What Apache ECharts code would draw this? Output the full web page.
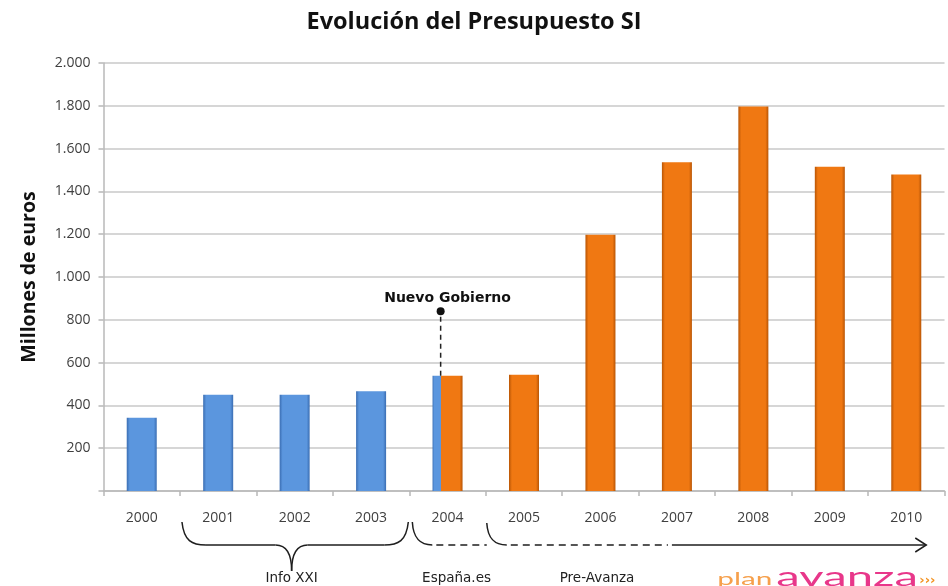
<!DOCTYPE html>
<html>
<head>
<meta charset="utf-8">
<script src="https://cdn.jsdelivr.net/npm/echarts@6/dist/echarts.min.js"></script>
<style>
  html, body { margin: 0; padding: 0; background: #fff; }
  #chart { width: 948px; height: 586px; }
</style>
</head>
<body>
<div id="chart"></div>
<script>
// Budget for the Information Society, millions of euros
const years  = ['2000', '2001', '2002', '2003', '2004', '2005', '2006', '2007', '2008', '2009', '2010'];
const budget = [342, 450, 450, 466, 538, 543, 1198, 1536, 1797, 1515, 1479];
// Programme each year belongs to: 'info' (Info XXI), 'avanza', or 'split' (2004, change of government)
const phase  = ['info', 'info', 'info', 'info', 'split', 'avanza', 'avanza', 'avanza', 'avanza', 'avanza', 'avanza'];
const programmes = ['Info XXI', 'España.es', 'Pre-Avanza'];
const eventLabel = 'Nuevo Gobierno';
const eventValue = 840;

const BAR_W = 30;
const BLUE_FRAC = 0.27;

const blue = { dark: '#3a6db2', main: '#5b96de' };
const orange = { dark: '#b85505', main: '#f07812' };

function bevel(c) {
  return new echarts.graphic.LinearGradient(0, 0, 1, 0, [
    { offset: 0, color: c.dark }, { offset: 0.1, color: c.main },
    { offset: 0.9, color: c.main }, { offset: 1, color: c.dark }
  ]);
}
function splitFill() {
  return new echarts.graphic.LinearGradient(0, 0, 1, 0, [
    { offset: 0, color: blue.dark }, { offset: 0.05, color: blue.main },
    { offset: BLUE_FRAC, color: blue.main }, { offset: BLUE_FRAC, color: orange.main },
    { offset: 0.9, color: orange.main }, { offset: 1, color: orange.dark }
  ]);
}

const barData = budget.map((v, i) => ({
  value: v,
  itemStyle: {
    color: phase[i] === 'info' ? bevel(blue) : phase[i] === 'split' ? splitFill() : bevel(orange),
    shadowColor: 'rgba(0,0,0,0.35)', shadowBlur: 3, shadowOffsetX: 1, shadowOffsetY: 1
  }
}));

const chart = echarts.init(document.getElementById('chart'), null, { renderer: 'canvas' });

chart.setOption({
  backgroundColor: '#ffffff',
  animation: false,
  title: {
    text: 'Evolución del Presupuesto SI',
    left: 'center', top: 5,
    textStyle: { fontFamily: 'Open Sans', fontWeight: 'bold', fontSize: 23.5, color: '#111' }
  },
  grid: { left: 103.5, right: 3.5, top: 63, bottom: 95 },
  xAxis: {
    type: 'category',
    data: years,
    axisLine: { lineStyle: { color: '#b8b8b8', width: 1.5 } },
    axisTick: { show: true, length: 5, lineStyle: { color: '#b8b8b8', width: 1.5 } },
    axisLabel: { margin: 20, fontFamily: 'Open Sans', fontSize: 14, color: '#404040' }
  },
  yAxis: {
    type: 'value',
    min: 0, max: 2000, interval: 200,
    name: 'Millones de euros',
    nameLocation: 'middle',
    nameGap: 64,
    nameTextStyle: { fontFamily: 'Open Sans', fontWeight: 'bold', fontSize: 19.5, color: '#111' },
    axisLine: { show: true, lineStyle: { color: '#b8b8b8', width: 1.5 } },
    axisTick: { show: true, length: 5, lineStyle: { color: '#b8b8b8', width: 1.5 } },
    axisLabel: {
      margin: 13, fontFamily: 'Open Sans', fontSize: 14, color: '#404040',
      formatter: v => v === 0 ? '' : v.toString().replace(/\B(?=(\d{3})+(?!\d))/g, '.')
    },
    splitLine: { lineStyle: { color: '#c8c8c8', width: 1.5 } }
  },
  series: [{
    type: 'bar',
    data: barData,
    barWidth: BAR_W
  }]
});

// Annotations anchored to the axes: change-of-government marker and programme timeline
function drawAnnotations() {
  const px = i => chart.convertToPixel({ xAxisIndex: 0 }, years[i]);
  const py = v => chart.convertToPixel({ yAxisIndex: 0 }, v);
  const catW = px(1) - px(0);
  const y0 = py(0);
  const ink = '#1e1e1e';
  const lineStyle = { stroke: ink, lineWidth: 1.5, fill: null };
  const dashStyle = { stroke: ink, lineWidth: 1.5, lineDash: [7, 5], fill: null };
  const els = [];

  // 2004 marker
  const iSplit = phase.indexOf('split');
  const splitX = px(iSplit) - BAR_W / 2 + BAR_W * BLUE_FRAC;
  const dotY = py(eventValue);
  els.push({ type: 'line', z: 10, shape: { x1: splitX, y1: py(budget[iSplit]), x2: splitX, y2: dotY },
    style: { stroke: '#222', lineWidth: 1.5, lineDash: [5, 4] } });
  els.push({ type: 'circle', z: 11, shape: { cx: splitX, cy: dotY, r: 4 }, style: { fill: '#111' } });
  els.push({ type: 'text', z: 11, x: px(iSplit), y: dotY - 13,
    style: { text: eventLabel, fontFamily: 'DejaVu Sans', fontWeight: 'bold', fontSize: 14, fill: '#111',
      align: 'center', verticalAlign: 'middle' } });

  const yTop = y0 + 31, yMid = y0 + 54, yTip = y0 + 80, yLab = y0 + 87;

  // Info XXI brace (2001-2003)
  const bL = px(0) + catW / 2 + 2, bR = px(3) + catW / 2 - 1, tip = px(2) - 3;
  els.push({ type: 'bezierCurve', shape: { x1: bL, y1: yTop, cpx1: bL + 2, cpy1: yMid - 4, cpx2: bL + 10, cpy2: yMid, x2: bL + 24, y2: yMid }, style: lineStyle });
  els.push({ type: 'line', shape: { x1: bL + 24, y1: yMid, x2: tip - 16, y2: yMid }, style: lineStyle });
  els.push({ type: 'bezierCurve', shape: { x1: tip - 16, y1: yMid, cpx1: tip - 4, cpy1: yMid, cpx2: tip, cpy2: yMid + 10, x2: tip, y2: yTip }, style: lineStyle });
  els.push({ type: 'bezierCurve', shape: { x1: tip, y1: yTip, cpx1: tip, cpy1: yMid + 10, cpx2: tip + 4, cpy2: yMid, x2: tip + 16, y2: yMid }, style: lineStyle });
  els.push({ type: 'line', shape: { x1: tip + 16, y1: yMid, x2: bR - 24, y2: yMid }, style: lineStyle });
  els.push({ type: 'bezierCurve', shape: { x1: bR - 24, y1: yMid, cpx1: bR - 10, cpy1: yMid, cpx2: bR - 2, cpy2: yMid - 4, x2: bR, y2: yTop }, style: lineStyle });

  // España.es (2004)
  const eL = px(3) + catW / 2 + 3, eR = px(4) + catW / 2 + 1;
  els.push({ type: 'bezierCurve', shape: { x1: eL, y1: yTop, cpx1: eL + 1, cpy1: yMid - 6, cpx2: eL + 8, cpy2: yMid, x2: eL + 20, y2: yMid }, style: lineStyle });
  els.push({ type: 'line', shape: { x1: eL + 24, y1: yMid, x2: eR, y2: yMid }, style: dashStyle });

  // Pre-Avanza (2005) continuing into Plan Avanza arrow
  const pL = px(4) + catW / 2 + 1, solidFrom = px(7) - 5, arrowEnd = px(10) + 20;
  els.push({ type: 'bezierCurve', shape: { x1: pL, y1: yTop + 1, cpx1: pL + 1, cpy1: yMid - 6, cpx2: pL + 8, cpy2: yMid, x2: pL + 20, y2: yMid }, style: lineStyle });
  els.push({ type: 'line', shape: { x1: pL + 24, y1: yMid, x2: solidFrom - 4, y2: yMid }, style: dashStyle });
  els.push({ type: 'line', shape: { x1: solidFrom, y1: yMid, x2: arrowEnd, y2: yMid }, style: lineStyle });
  els.push({ type: 'polyline', shape: { points: [[arrowEnd - 11, yMid - 7], [arrowEnd, yMid], [arrowEnd - 11, yMid + 7]] }, style: lineStyle });

  // Programme names
  const labStyle = { fontFamily: 'DejaVu Sans', fontSize: 13.5, fill: '#222', align: 'center', verticalAlign: 'middle' };
  els.push({ type: 'text', x: tip, y: yLab, style: Object.assign({ text: programmes[0] }, labStyle) });
  els.push({ type: 'text', x: px(4) + 9, y: yLab, style: Object.assign({ text: programmes[1] }, labStyle) });
  els.push({ type: 'text', x: px(5) + 73, y: yLab, style: Object.assign({ text: programmes[2] }, labStyle) });

  // planavanza wordmark
  const wx = px(8) - 36;
  els.push({ type: 'text', x: wx, y: yLab + 2, scaleX: 1.75, originX: 0,
    style: { text: 'plan', fontFamily: 'Lato', fontWeight: 400, fontSize: 17, fill: '#f6a04c', align: 'left', verticalAlign: 'middle' } });
  els.push({ type: 'text', x: wx + 59, y: yLab - 1, scaleX: 1.75, originX: 0,
    style: { text: 'avanza', fontFamily: 'Lato', fontWeight: 400, fontSize: 27, fill: '#e8378a', align: 'left', verticalAlign: 'middle' } });
  els.push({ type: 'text', x: wx + 202, y: yLab + 3, style: { text: '›››', fontFamily: 'DejaVu Sans', fontWeight: 'bold', fontSize: 13, fill: '#f39220', align: 'left', verticalAlign: 'middle' } });

  chart.setOption({ graphic: { elements: els } });
}
drawAnnotations();
</script>
</body>
</html>
